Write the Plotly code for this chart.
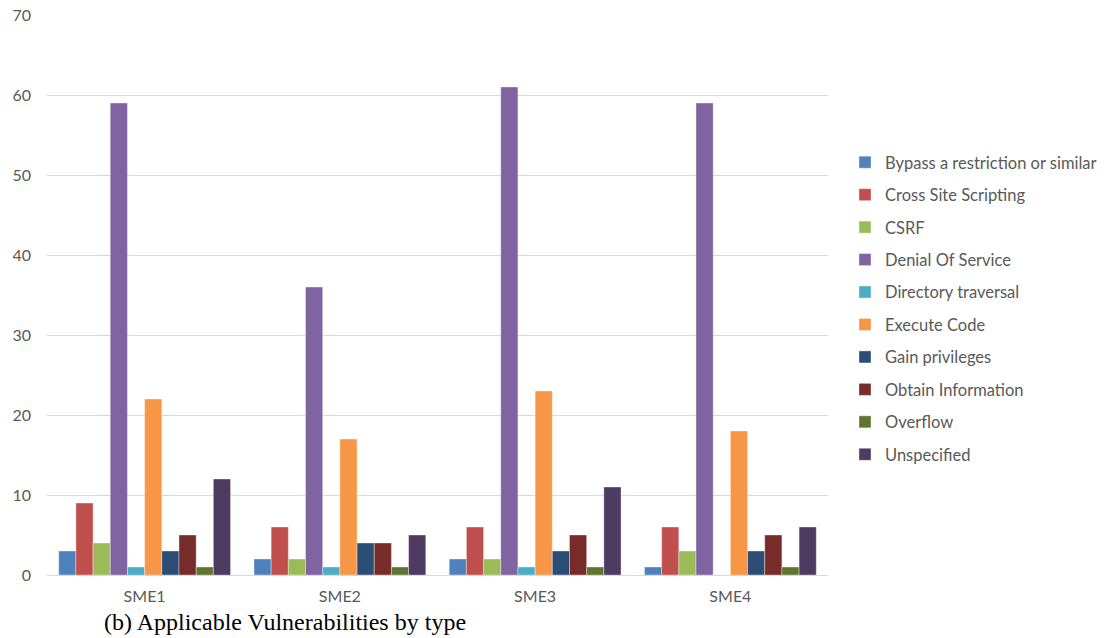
import plotly.graph_objects as go

# Vulnerability counts per SME, grouped by vulnerability type
smes = ["SME1", "SME2", "SME3", "SME4"]
vuln_types = [
    "Bypass a restriction or similar",
    "Cross Site Scripting",
    "CSRF",
    "Denial Of Service",
    "Directory traversal",
    "Execute Code",
    "Gain privileges",
    "Obtain Information",
    "Overflow",
    "Unspecified",
]
bypass = [3, 2, 2, 1]
xss = [9, 6, 6, 6]
csrf = [4, 2, 2, 3]
dos = [59, 36, 61, 59]
dir_traversal = [1, 1, 1, 0]
exec_code = [22, 17, 23, 18]
gain_priv = [3, 4, 3, 3]
obtain_info = [5, 4, 5, 5]
overflow = [1, 1, 1, 1]
unspecified = [12, 5, 11, 6]
y_ticks = [0, 10, 20, 30, 40, 50, 60, 70]

series = [bypass, xss, csrf, dos, dir_traversal, exec_code,
          gain_priv, obtain_info, overflow, unspecified]
colors = ["#4F81BD", "#C0504D", "#9BBB59", "#8064A2", "#4BACC6",
          "#F79646", "#2C4D75", "#772C2A", "#5F7530", "#4D3B62"]

fig = go.Figure()
for name, vals, col in zip(vuln_types, series, colors):
    fig.add_trace(go.Bar(
        x=smes, y=vals, name=name, legendgroup=name,
        marker=dict(color=col, line=dict(color="rgba(255,255,255,0.6)", width=0.6)),
    ))

plot_left, plot_right, plot_top, plot_bottom = 47, 828, 15, 575
pw = plot_right - plot_left
ph = plot_bottom - plot_top

label_font = "Lato, Open Sans, sans-serif"

fig.update_layout(
    width=1120, height=638,
    margin=dict(l=plot_left, r=1120 - plot_right, t=plot_top, b=638 - plot_bottom,
                autoexpand=False),
    plot_bgcolor="white", paper_bgcolor="white",
    barmode="group", bargap=0.12, bargroupgap=0,
    font=dict(family=label_font, color="#595959", size=16),
    showlegend=True,
    legend=dict(
        x=(845 - plot_left) / pw, y=(plot_bottom - 145) / ph,
        xanchor="left", yanchor="top",
        font=dict(family=label_font, size=16.5, color="#595959"),
        tracegroupgap=8, itemwidth=30,
        bgcolor="rgba(0,0,0,0)",
    ),
    xaxis=dict(
        showline=True, linecolor="#D9D9D9", linewidth=1,
        tickfont=dict(size=16, color="#595959"), ticks="",
        ticklabelstandoff=7,
    ),
    yaxis=dict(
        range=[0, 70], tickvals=y_ticks, showgrid=True, gridcolor="#D9D9D9",
        zeroline=False, tickfont=dict(size=16, color="#595959"), ticks="",
        ticklabelstandoff=15,
    ),
)

fig.add_annotation(
    text="(b) Applicable Vulnerabilities by type",
    xref="paper", yref="paper", x=(102 - plot_left) / pw, y=(plot_bottom - 622) / ph,
    xanchor="left", yanchor="middle", showarrow=False,
    font=dict(family="Liberation Serif, Times New Roman, serif", size=24, color="black"),
)

fig.write_html("out.html")
